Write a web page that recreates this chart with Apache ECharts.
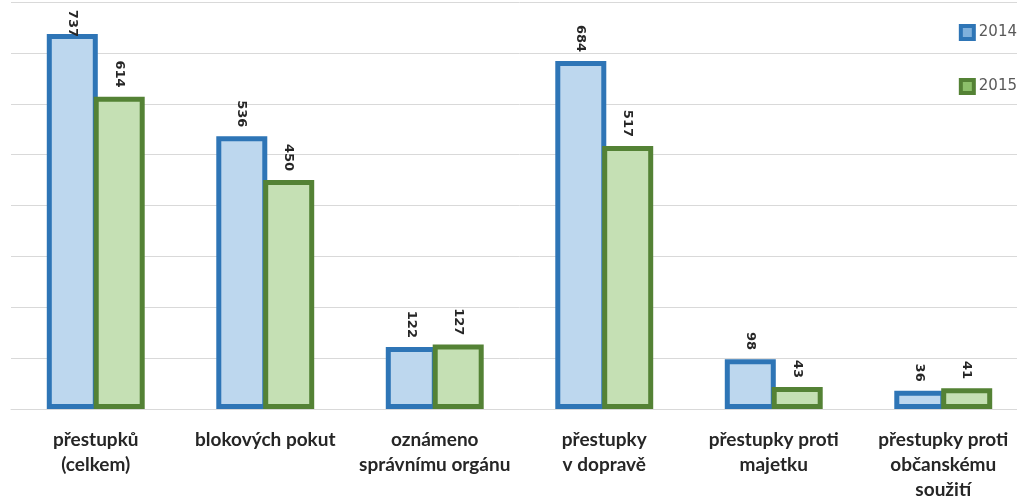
<!DOCTYPE html>
<html>
<head>
<meta charset="utf-8">
<script src="https://cdn.jsdelivr.net/npm/echarts@6/dist/echarts.min.js"></script>
<style>
html,body{margin:0;padding:0;background:#fff;overflow:hidden;width:1017px;height:500px;}
#c{width:1028px;height:500px;}
</style>
</head>
<body>
<div id="c"></div>
<script>
const categories = [
  "přestupků\n(celkem)",
  "blokových pokut",
  "oznámeno\nsprávnímu orgánu",
  "přestupky\nv dopravě",
  "přestupky proti\nmajetku",
  "přestupky proti\nobčanskému\nsoužití"
];
const seriesNames = ["2014", "2015"];
const values2014 = [737, 536, 122, 684, 98, 36];
const values2015 = [614, 450, 127, 517, 43, 41];

const Y_MAX = 800, GRID_TOP = 2, GRID_H = 407;
const chart = echarts.init(document.getElementById('c'));
function labelFor(v) {
  // keep label inside the chart top like the original (shift down when too tall)
  const yPos = GRID_TOP + GRID_H * (1 - v / Y_MAX);
  const dist = Math.min(9, yPos - 27 - 10);
  return dist === 9 ? v : { value: v, label: { distance: dist } };
}
const labelCfg = {
  show: true,
  position: 'top',
  rotate: -90,
  align: 'right',
  verticalAlign: 'middle',
  distance: 9,
  fontFamily: 'DejaVu Sans',
  fontWeight: 'bold',
  fontSize: 13,
  color: '#262626'
};
chart.setOption({
  animation: false,
  backgroundColor: '#fff',
  grid: { left: 11, right: 0, top: GRID_TOP, height: GRID_H, containLabel: false, outerBoundsMode: 'none' },
  legend: {
    orient: 'vertical',
    right: 6,
    top: 19,
    itemGap: 37,
    itemWidth: 13,
    itemHeight: 13,
    icon: 'rect',
    textStyle: { color: '#595959', fontSize: 15, fontFamily: 'DejaVu Sans' },
    data: [
      { name: seriesNames[0], itemStyle: { color: '#7fb0dc', borderColor: '#2e75b6', borderWidth: 4 } },
      { name: seriesNames[1], itemStyle: { color: '#8cc06a', borderColor: '#548235', borderWidth: 4 } }
    ]
  },
  xAxis: {
    type: 'category',
    data: categories,
    axisTick: { show: false },
    axisLine: { lineStyle: { color: '#d9d9d9' } },
    axisLabel: {
      interval: 0,
      margin: 18,
      fontFamily: 'Lato',
      fontWeight: 'bold',
      fontSize: 19,
      lineHeight: 25,
      color: '#262626'
    }
  },
  yAxis: {
    type: 'value',
    min: 0,
    max: Y_MAX,
    interval: 100,
    axisLabel: { show: false },
    axisLine: { show: false },
    axisTick: { show: false },
    splitLine: { lineStyle: { color: '#d9d9d9', width: 1 } }
  },
  series: [
    {
      name: seriesNames[0],
      type: 'bar',
      data: values2014.map(labelFor),
      barWidth: 51,
      barGap: '-8%',
      itemStyle: { color: '#bdd7ee', borderColor: '#2e75b6', borderWidth: 5 },
      label: labelCfg
    },
    {
      name: seriesNames[1],
      type: 'bar',
      data: values2015.map(labelFor),
      barWidth: 51,
      itemStyle: { color: '#c5e0b4', borderColor: '#548235', borderWidth: 5 },
      label: labelCfg
    }
  ]
});
</script>
</body>
</html>
